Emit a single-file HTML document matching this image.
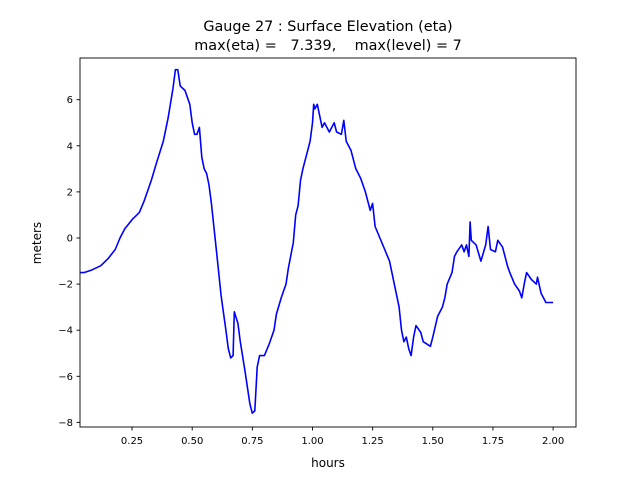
<!DOCTYPE html>
<html><head><meta charset="utf-8"><style>
body{margin:0;background:#fff;}
svg{font-family:"DejaVu Sans","Liberation Sans",sans-serif;}
</style></head><body>
<svg id="s" width="640" height="480" xmlns="http://www.w3.org/2000/svg">
<rect width="640" height="480" fill="#fff"/>
<text x="328" y="31" font-size="14.4" text-anchor="middle">Gauge 27 : Surface Elevation (eta)</text>
<text x="328" y="50" font-size="14.4" text-anchor="middle" xml:space="preserve">max(eta) =   7.339,    max(level) = 7</text>
<polyline id="p" fill="none" stroke="#0000ff" stroke-width="1.6" stroke-linejoin="round"/>
<rect x="80" y="58" width="496" height="369" fill="none" stroke="#000" stroke-width="0.9"/>
<g id="t" font-size="10" stroke-width="0.9"></g>
<text x="328" y="467" font-size="12" text-anchor="middle">hours</text>
<text x="41" y="243" font-size="12" text-anchor="middle" transform="rotate(-90 41 243)">meters</text>
</svg>
<script>
var X=function(h){return 71.9+240.6*h},Y=function(v){return 238-23.05*v};
var d=[0.035,-1.5,0.05,-1.5,0.08,-1.4,0.12,-1.2,0.15,-0.9,0.18,-0.5,0.2,0,0.22,0.4,0.25,0.8,0.28,1.1,0.3,1.6,0.33,2.5,0.35,3.2,0.38,4.2,0.4,5.2,0.42,6.5,0.43,7.3,0.44,7.3,0.45,6.6,0.47,6.4,0.49,5.8,0.5,5.0,0.51,4.5,0.52,4.5,0.53,4.8,0.54,3.5,0.55,3.0,0.56,2.8,0.57,2.3,0.58,1.5,0.6,-0.5,0.62,-2.5,0.64,-4.0,0.65,-4.8,0.66,-5.2,0.67,-5.1,0.675,-3.2,0.69,-3.7,0.7,-4.5,0.72,-5.8,0.74,-7.2,0.75,-7.6,0.76,-7.5,0.77,-5.6,0.78,-5.1,0.8,-5.1,0.82,-4.6,0.84,-4.0,0.85,-3.3,0.87,-2.6,0.89,-2.0,0.9,-1.3,0.92,-0.2,0.93,1.0,0.94,1.4,0.95,2.5,0.96,3.0,0.97,3.4,0.98,3.8,0.99,4.2,1.0,5.0,1.005,5.8,1.01,5.6,1.02,5.8,1.03,5.3,1.04,4.8,1.05,5.0,1.07,4.6,1.09,5.0,1.1,4.6,1.12,4.5,1.13,5.1,1.14,4.2,1.16,3.8,1.18,3.0,1.2,2.6,1.22,2.0,1.24,1.2,1.25,1.5,1.26,0.5,1.28,0,1.3,-0.5,1.32,-1.0,1.34,-2.0,1.36,-3.0,1.37,-4.0,1.38,-4.5,1.39,-4.3,1.4,-4.8,1.41,-5.1,1.42,-4.3,1.43,-3.8,1.45,-4.1,1.46,-4.5,1.49,-4.7,1.5,-4.3,1.52,-3.4,1.54,-3.0,1.55,-2.6,1.56,-2.0,1.58,-1.5,1.59,-0.8,1.6,-0.6,1.62,-0.3,1.63,-0.6,1.64,-0.3,1.65,-0.8,1.655,0.7,1.66,-0.1,1.68,-0.3,1.7,-1.0,1.72,-0.3,1.73,0.5,1.74,-0.5,1.76,-0.6,1.77,-0.1,1.79,-0.4,1.81,-1.2,1.82,-1.5,1.84,-2.0,1.86,-2.3,1.87,-2.6,1.88,-2.0,1.89,-1.5,1.91,-1.8,1.93,-2.0,1.935,-1.7,1.95,-2.4,1.97,-2.8,2.0,-2.8];
var pts=[];for(var i=0;i<d.length;i+=2)pts.push(X(d[i]).toFixed(1)+","+Y(d[i+1]).toFixed(1));
document.getElementById("p").setAttribute("points",pts.join(" "));
var g="";
[0.25,0.5,0.75,1,1.25,1.5,1.75,2].forEach(function(h){var x=X(h);g+='<line x1="'+x+'" x2="'+x+'" y1="427" y2="430.5" stroke="#000"/><text x="'+x+'" y="444" text-anchor="middle">'+h.toFixed(2)+'</text>';});
[6,4,2,0,-2,-4,-6,-8].forEach(function(v){var y=Y(v);g+='<line x1="76.5" x2="80" y1="'+y+'" y2="'+y+'" stroke="#000"/><text x="73" y="'+(y+3.5)+'" text-anchor="end">'+(v<0?'\u2212'+(-v):v)+'</text>';});
document.getElementById("t").innerHTML=g;
</script>
</body></html>
